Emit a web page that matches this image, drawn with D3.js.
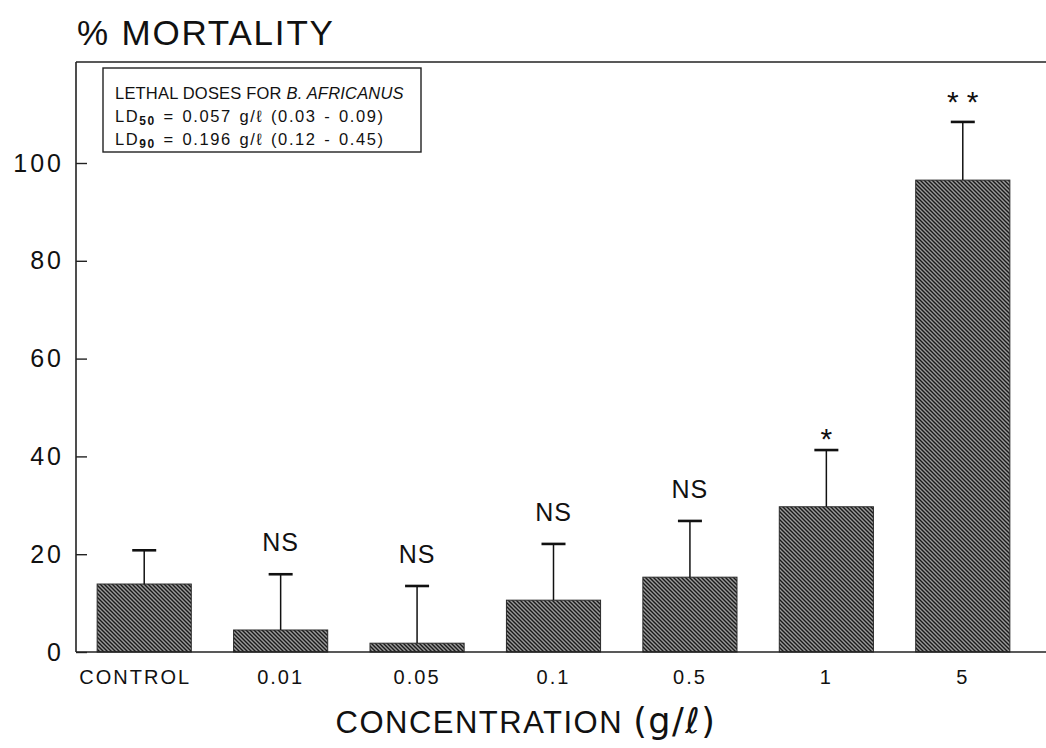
<!DOCTYPE html>
<html>
<head>
<meta charset="utf-8">
<script src="https://cdn.jsdelivr.net/npm/d3@7"></script>
<style>
  html, body { margin: 0; padding: 0; background: #fff; }
  svg { display: block; font-family: "Liberation Sans", Arial, Helvetica, sans-serif; }
</style>
</head>
<body>
<svg id="chart" width="1046" height="748"></svg>
<script>
// ---- data ----
const categories   = ["CONTROL", "0.01", "0.05", "0.1", "0.5", "1", "5"];
const mortality    = [13.9, 4.5, 1.8, 10.6, 15.3, 29.7, 96.5];
const errorUpper   = [20.8, 15.9, 13.5, 22.1, 26.8, 41.3, 108.4];
const significance = ["", "NS", "NS", "NS", "NS", "*", "**"];
const yTicks       = [0, 20, 40, 60, 80, 100];
const yTitle = "% MORTALITY";
const xTitleMain = "CONCENTRATION";
const xTitleUnit = "(g/\u2113)";
const legendLine1 = "LETHAL DOSES FOR ";
const legendSpecies = "B. AFRICANUS";
const legendLD = [
  { sub: "50", text: " = 0.057 g/\u2113 (0.03 - 0.09)" },
  { sub: "90", text: " = 0.196 g/\u2113 (0.12 - 0.45)" }
];

// ---- layout ----
const axisX = 76, baseY = 652, frameTop = 62, rightEdge = 1046;

const svg = d3.select("#chart");

const x = d3.scaleBand().domain(categories).range([76, 1031]).paddingInner(0.31).paddingOuter(0.155);
const y = d3.scaleLinear().domain([0, 100]).range([baseY, 163]);

// hatch pattern
const defs = svg.append("defs");
const pat = defs.append("pattern").attr("id", "hatch")
  .attr("patternUnits", "userSpaceOnUse").attr("width", 4).attr("height", 4);
pat.append("rect").attr("width", 4).attr("height", 4).attr("fill", "#9a9a9a");
pat.append("path").attr("d", "M0,0 L4,4 M-1,3 L1,5 M3,-1 L5,1")
  .attr("stroke", "#1a1a1a").attr("stroke-width", 1.4);

// frame top line
svg.append("line").attr("x1", axisX).attr("x2", rightEdge).attr("y1", frameTop).attr("y2", frameTop)
  .attr("stroke", "#222").attr("stroke-width", 1.6);

// bars
svg.append("g").selectAll("rect").data(categories).join("rect")
  .attr("x", d => x(d))
  .attr("width", x.bandwidth())
  .attr("y", (d, i) => y(mortality[i]))
  .attr("height", (d, i) => y(0) - y(mortality[i]))
  .attr("fill", "url(#hatch)")
  .attr("stroke", "#2a2a2a").attr("stroke-width", 1);

// error bars
const eg = svg.append("g");
categories.forEach((c, i) => {
  const cx = x(c) + x.bandwidth() / 2;
  eg.append("line").attr("x1", cx).attr("x2", cx)
    .attr("y1", y(mortality[i])).attr("y2", y(errorUpper[i]))
    .attr("stroke", "#111").attr("stroke-width", 1.5);
  eg.append("line").attr("x1", cx - 12).attr("x2", cx + 12)
    .attr("y1", y(errorUpper[i])).attr("y2", y(errorUpper[i]))
    .attr("stroke", "#111").attr("stroke-width", 2.6);
});

// significance labels
categories.forEach((c, i) => {
  const s = significance[i];
  if (!s) return;
  const cx = x(c) + x.bandwidth() / 2;
  const top = y(errorUpper[i]);
  const t = svg.append("text").attr("text-anchor", "middle").attr("fill", "#111");
  if (s === "NS") {
    t.attr("x", cx).attr("y", top - 23).attr("font-size", 25).attr("letter-spacing", 1).text(s);
  } else if (s === "*") {
    t.attr("x", cx).attr("y", top - 1).attr("font-size", 30).text(s);
  } else {
    t.attr("x", cx + 4).attr("y", top - 10).attr("font-size", 30).attr("letter-spacing", 8).text(s);
  }
});

// y axis
const yAxis = d3.axisLeft(y).tickValues(yTicks).tickSizeInner(-11).tickSizeOuter(0).tickPadding(12);
const yg = svg.append("g").attr("transform", `translate(${axisX},0)`).call(yAxis);
yg.select(".domain").remove();
yg.selectAll(".tick line").attr("stroke", "#222").attr("stroke-width", 1.4);
yg.selectAll(".tick text").attr("font-size", 25).attr("letter-spacing", 3)
  .attr("fill", "#111").attr("font-family", "Liberation Sans, Arial, sans-serif");
svg.append("line").attr("x1", axisX).attr("x2", axisX).attr("y1", frameTop).attr("y2", baseY)
  .attr("stroke", "#222").attr("stroke-width", 1.6);

// x axis baseline + labels
svg.append("line").attr("x1", axisX).attr("x2", rightEdge).attr("y1", baseY).attr("y2", baseY)
  .attr("stroke", "#222").attr("stroke-width", 1.6);
const xAxis = d3.axisBottom(x).tickSize(0).tickPadding(18);
const xg = svg.append("g").attr("transform", `translate(0,${baseY})`).call(xAxis);
xg.select(".domain").remove();
xg.selectAll(".tick text").attr("font-size", 20).attr("letter-spacing", 2)
  .attr("fill", "#111").attr("font-family", "Liberation Sans, Arial, sans-serif")
  .attr("dx", d => d === "CONTROL" ? -9 : 0);

// y title
svg.append("text").attr("x", 77).attr("y", 45).attr("font-size", 35).attr("letter-spacing", 1.8)
  .attr("fill", "#111").text(yTitle);

// x title
const xt = svg.append("text").attr("x", 526).attr("y", 733).attr("text-anchor", "middle")
  .attr("fill", "#111").attr("font-size", 31).attr("letter-spacing", 1.5);
xt.append("tspan").text(xTitleMain + " ");
xt.append("tspan").attr("font-size", 35).attr("font-family", "DejaVu Sans, sans-serif").text(xTitleUnit);

// legend box
svg.append("rect").attr("x", 103).attr("y", 68).attr("width", 318).attr("height", 84)
  .attr("fill", "#fff").attr("stroke", "#222").attr("stroke-width", 1.4);
const l1 = svg.append("text").attr("x", 115).attr("y", 99).attr("font-size", 16.5)
  .attr("letter-spacing", 0.2).attr("fill", "#111");
l1.append("tspan").text(legendLine1);
l1.append("tspan").attr("font-style", "italic").text(legendSpecies);
legendLD.forEach((d, i) => {
  const t = svg.append("text").attr("x", 115).attr("y", 122 + i * 23).attr("font-size", 16.5)
    .attr("letter-spacing", 1.6).attr("word-spacing", 1.5).attr("fill", "#111");
  t.append("tspan").text("LD");
  t.append("tspan").attr("font-size", 12).attr("font-weight", "bold").attr("dy", 3).text(d.sub);
  t.append("tspan").attr("dy", -3).text(d.text);
});
</script>
</body>
</html>
